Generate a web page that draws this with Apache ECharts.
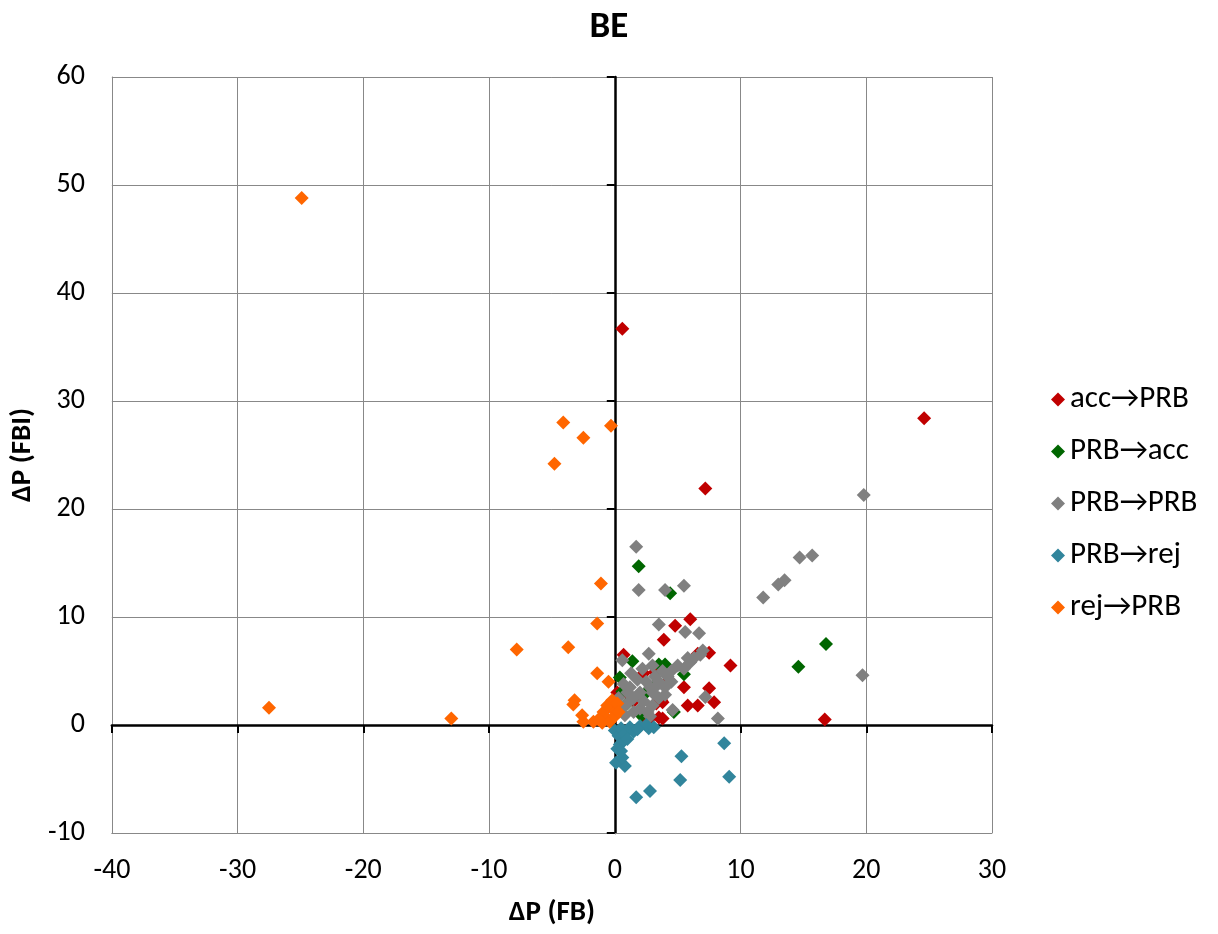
<!DOCTYPE html>
<html>
<head>
<meta charset="utf-8">
<title>BE</title>
<script src="https://cdn.jsdelivr.net/npm/echarts@6/dist/echarts.min.js"></script>
<style>
  html, body { margin: 0; padding: 0; background: #fff; }
  #chart { width: 1218px; height: 934px; }
</style>
</head>
<body>
<div id="chart"></div>
<script>
// Axis ranges and tick step
const xTicks = [-40, -30, -20, -10, 0, 10, 20, 30];
const yTicks = [-10, 0, 10, 20, 30, 40, 50, 60];

// Series names
const seriesNames = ['acc→PRB', 'PRB→acc', 'PRB→PRB', 'PRB→rej', 'rej→PRB'];

// [ΔP (FB), ΔP (FBI)] pairs per transition group
const accToPrb = [
  [0.6, 36.7], [24.6, 28.4], [7.2, 21.9], [6.0, 9.8], [4.8, 9.2], [3.9, 7.9],
  [9.2, 5.5], [7.5, 3.4], [7.9, 2.1], [16.7, 0.5], [0.7, 6.5], [6.6, 6.6],
  [7.5, 6.7], [5.5, 3.5], [5.8, 1.8], [6.6, 1.8], [0.2, 3.0], [2.3, 0.7],
  [3.8, 0.6], [3.8, 2.1], [2.3, 4.8], [3.2, 4.9], [0.9, 3.0], [2.7, 0.5],
  [3.3, 2.0], [3.7, 2.3], [3.5, 0.7], [1.5, 2.2], [4.3, 4.2]
];
const prbToAcc = [
  [1.9, 14.7], [4.4, 12.2], [16.8, 7.5], [14.6, 5.4], [1.4, 5.9], [3.5, 5.6],
  [4.0, 5.6], [5.5, 4.7], [0.4, 4.4], [4.7, 1.2], [0.6, 3.1], [2.1, 0.9],
  [3.1, 3.6], [1.0, 2.0], [2.5, 3.0]
];
const prbToPrb = [
  [19.8, 21.3], [15.7, 15.7], [14.7, 15.5], [13.0, 13.0], [13.5, 13.4], [11.8, 11.8],
  [19.7, 4.6], [1.7, 16.5], [1.9, 12.5], [4.0, 12.5], [5.5, 12.9], [3.5, 9.3],
  [5.6, 8.6], [6.7, 8.5], [2.7, 6.6], [0.6, 6.0], [7.0, 6.9], [7.2, 2.6],
  [8.2, 0.6], [4.6, 1.4], [0.5, 1.5], [1.0, 2.0], [1.2, 3.5], [1.5, 2.5],
  [2.0, 3.0], [2.3, 2.2], [2.5, 4.0], [2.8, 3.5], [3.0, 3.0], [3.2, 4.5],
  [3.5, 4.0], [3.8, 5.0], [4.0, 3.5], [4.2, 4.5], [4.5, 5.0], [5.0, 5.5],
  [5.5, 5.2], [6.0, 5.8], [6.3, 6.2], [6.8, 6.5], [2.0, 1.5], [3.0, 1.8],
  [1.8, 4.2], [2.2, 5.2], [1.0, 3.0], [3.5, 2.5], [4.5, 4.0], [0.8, 0.9],
  [1.5, 1.2], [2.8, 0.8], [3.0, 5.5], [0.3, 2.5], [1.3, 4.8], [0.7, 3.8],
  [2.6, 1.2], [4.0, 2.8], [5.8, 6.2], [3.3, 3.6]
];
const prbToRej = [
  [1.7, -6.7], [2.8, -6.1], [5.2, -5.1], [9.1, -4.8], [8.7, -1.7], [5.3, -2.9],
  [0.8, -3.8], [0.1, -3.5], [0.6, -3.0], [0.6, -1.6], [2.7, -0.3], [0.0, -0.5],
  [0.3, -1.0], [0.5, -0.3], [0.8, -0.8], [1.2, -0.2], [1.5, -0.6], [2.0, -0.1],
  [2.5, 0.0], [0.4, -1.8], [1.0, -1.3], [0.2, -2.2], [1.8, -0.4], [3.1, -0.2],
  [0.5, -2.4]
];
const rejToPrb = [
  [-24.9, 48.8], [-27.5, 1.6], [-13.0, 0.6], [-7.8, 7.0], [-4.1, 28.0], [-4.8, 24.2],
  [-2.5, 26.6], [-0.3, 27.7], [-1.1, 13.1], [-1.4, 9.4], [-3.7, 7.2], [-1.4, 4.8],
  [-0.5, 4.0], [-3.2, 2.3], [-3.3, 1.9], [-2.5, 0.3], [-2.6, 0.9], [-1.7, 0.3],
  [-0.9, 1.2], [-0.3, 1.6], [-0.6, 0.6], [0.1, 1.4], [-1.0, 0.2], [-1.3, 0.5],
  [-0.6, 1.8], [-0.2, 2.3], [0.2, 2.0], [-0.4, 0.3], [0.0, 0.8], [0.3, 1.2]
];

const groups = [accToPrb, prbToAcc, prbToPrb, prbToRej, rejToPrb];
const colors = ['#C00000', '#006600', '#808080', '#31859C', '#FF6600'];

const FONT = 'Carlito, Lato, "Open Sans", sans-serif';
const GRID_COLOR = '#888888';

const xMin = xTicks[0], xMax = xTicks[xTicks.length - 1], xStep = xTicks[1] - xTicks[0];
const yMin = yTicks[0], yMax = yTicks[yTicks.length - 1], yStep = yTicks[1] - yTicks[0];

const chart = echarts.init(document.getElementById('chart'), null, { renderer: 'canvas' });

chart.setOption({
  animation: false,
  backgroundColor: '#ffffff',
  textStyle: { fontFamily: FONT },
  title: {
    text: 'BE',
    left: 'center',
    top: 4,
    textStyle: { fontFamily: FONT, fontSize: 37, fontWeight: 'bold', color: '#000' }
  },
  legend: {
    orient: 'vertical',
    left: 1046,
    top: 379,
    icon: 'diamond',
    itemWidth: 14,
    itemHeight: 14,
    itemGap: 21,
    textStyle: { fontFamily: FONT, fontSize: 31, color: '#000' },
    data: seriesNames
  },
  grid: { left: 111, right: 226, top: 77, bottom: 101, containLabel: false },
  xAxis: [
    {
      // frame, gridlines and bottom labels
      type: 'value', position: 'bottom', min: xMin, max: xMax, interval: xStep,
      axisLine: { show: true, onZero: false, lineStyle: { color: GRID_COLOR, width: 1 } },
      axisTick: { show: false },
      axisLabel: { fontFamily: FONT, fontSize: 28, color: '#000', margin: 24 },
      splitLine: { show: true, lineStyle: { color: GRID_COLOR, width: 1 } },
      name: 'ΔP (FB)', nameLocation: 'middle', nameGap: 65,
      nameTextStyle: { fontFamily: FONT, fontSize: 29, fontWeight: 'bold', color: '#000' }
    },
    {
      // black zero line with tick marks
      type: 'value', position: 'bottom', min: xMin, max: xMax, interval: xStep,
      axisLine: { show: true, onZero: true, onZeroAxisIndex: 0, lineStyle: { color: '#000', width: 2.5 } },
      axisTick: { show: true, length: 8, lineStyle: { color: '#000', width: 2 } },
      axisLabel: { show: false },
      splitLine: { show: false }
    }
  ],
  yAxis: [
    {
      type: 'value', position: 'left', min: yMin, max: yMax, interval: yStep,
      axisLine: { show: true, onZero: false, lineStyle: { color: GRID_COLOR, width: 1 } },
      axisTick: { show: false },
      axisLabel: { fontFamily: FONT, fontSize: 28, color: '#000', margin: 27 },
      splitLine: { show: true, lineStyle: { color: GRID_COLOR, width: 1 } },
      name: 'ΔP (FBI)', nameLocation: 'middle', nameGap: 64, nameRotate: 90,
      nameTextStyle: { fontFamily: FONT, fontSize: 29, fontWeight: 'bold', color: '#000' }
    },
    {
      type: 'value', position: 'left', min: yMin, max: yMax, interval: yStep,
      axisLine: { show: true, onZero: true, onZeroAxisIndex: 0, lineStyle: { color: '#000', width: 2.5 } },
      axisTick: { show: true, length: 8, lineStyle: { color: '#000', width: 2 } },
      axisLabel: { show: false },
      splitLine: { show: false }
    }
  ],
  series: groups.map((data, i) => ({
    name: seriesNames[i],
    type: 'scatter',
    xAxisIndex: 0,
    yAxisIndex: 0,
    symbol: 'diamond',
    symbolSize: 14,
    itemStyle: { color: colors[i], opacity: 1 },
    data: data,
    z: 3
  }))
});
</script>
</body>
</html>
